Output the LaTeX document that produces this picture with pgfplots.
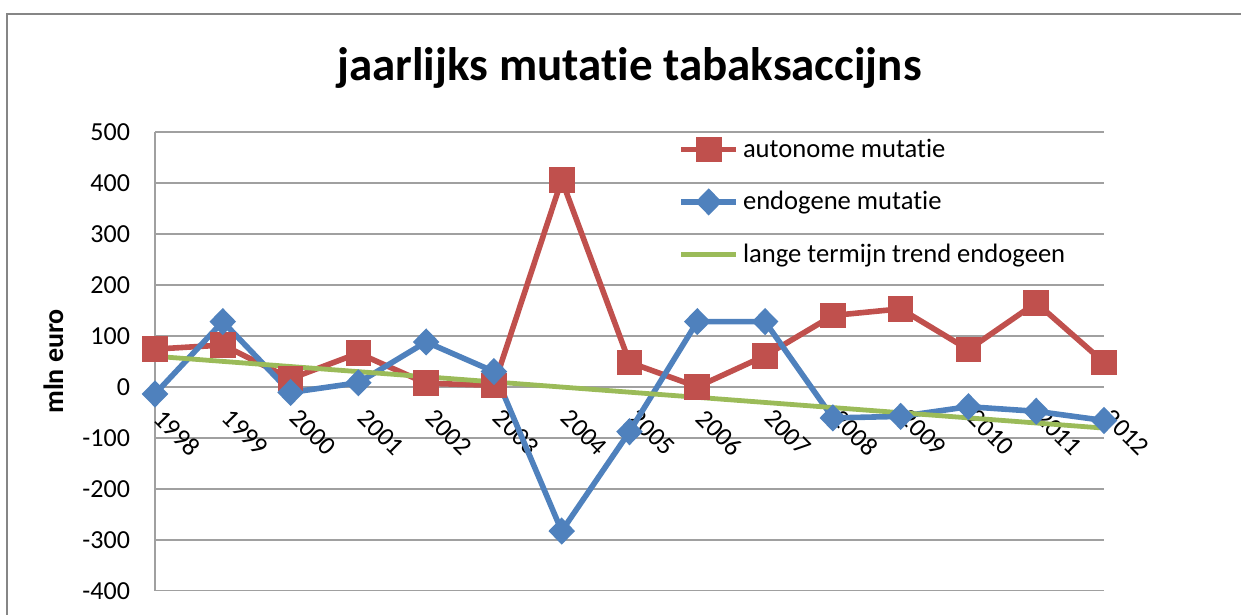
\documentclass[border=0pt]{standalone}
\usepackage{pgfplots}
\pgfplotsset{compat=1.18}
\usepackage{fontspec}
\setmainfont{Carlito}[Ligatures={NoCommon}]
\definecolor{cred}{HTML}{C0504D}
\definecolor{cblue}{HTML}{4F81BD}
\definecolor{cgreen}{HTML}{9BBB59}
\definecolor{cgrid}{RGB}{160,160,160}
\definecolor{cborder}{RGB}{134,134,134}
\begin{document}
\begin{tikzpicture}
\useasboundingbox (0,0) rectangle (620.5pt,307.5pt);
\draw[cborder,line width=1.2pt] (3.5pt,-10pt) -- (3.5pt,300.5pt) -- (640pt,300.5pt);
\begin{axis}[
  at={(77.5pt,12.15pt)}, anchor=south west,
  scale only axis, width=474.5pt, height=229.35pt,
  xmin=1998, xmax=2012, ymin=-400, ymax=500,
  xtick={1998,...,2012}, ytick={-400,-300,...,500},
  axis x line=middle, axis y line=left,
  hide obscured x ticks=false, hide obscured y ticks=false,
  axis line style={-, draw=cgrid, line width=0.8pt},
  ymajorgrids, grid style={draw=cgrid, line width=0.8pt},
  major tick length=0pt,
  /pgf/number format/assume math mode=true,
  xticklabel={\pgfmathprintnumber[1000 sep={}]{\tick}},
  ticklabel style={font=\fontsize{13}{15}\selectfont},
  xticklabel style={xshift=5pt, yshift=-5.5pt, rotate=-45, anchor=north west},
  yticklabel style={anchor=east, xshift=-9pt},
  ylabel={\bfseries mln euro},
  ylabel style={at={(axis description cs:-0.107,0.5)}, anchor=center, font=\fontsize{14}{16}\selectfont},
  title={\bfseries jaarlijks mutatie tabaksaccijns},
  title style={at={(0.5,1)}, anchor=base, yshift=20pt, font=\fontsize{23.5}{28}\selectfont},
  legend style={at={(rel axis cs:0.549,0.999)}, anchor=north west, draw=none, fill=none,
    font=\fontsize{13.3}{16}\selectfont, row sep=11.5pt, inner sep=1pt},
  legend cell align=left,
  legend image code/.code={\draw[mark repeat=2,mark phase=2] plot coordinates {(0pt,0pt) (13.75pt,0pt) (27.5pt,0pt)};},
]
\addplot[cred, line width=2.8pt, mark=square*, mark size=5pt, mark options={solid}] coordinates {
(1998,74) (1999,82) (2000,16) (2001,66) (2002,7) (2003,3) (2004,406) (2005,48)
(2006,0) (2007,61) (2008,140) (2009,153) (2010,73) (2011,165) (2012,48)};
\addlegendentry{autonome mutatie}
\addplot[cblue, line width=2.8pt, mark=diamond*, mark size=4.8pt, mark options={solid, xscale=1.3}] coordinates {
(1998,-14) (1999,128) (2000,-11) (2001,8) (2002,88) (2003,30) (2004,-283) (2005,-88)
(2006,128) (2007,128) (2008,-61) (2009,-58) (2010,-39) (2011,-48) (2012,-66)};
\addlegendentry{endogene mutatie}
\addplot[cgreen, line width=2.4pt, no marks] coordinates {(1998,60) (2012,-81)};
\addlegendentry{lange termijn trend endogeen}
\end{axis}
\end{tikzpicture}
\end{document}
